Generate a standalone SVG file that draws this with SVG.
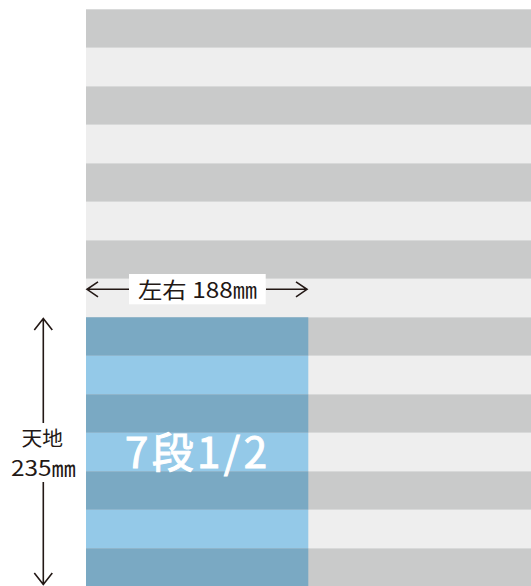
<svg xmlns="http://www.w3.org/2000/svg" width="531" height="586" viewBox="0 0 531 586">
<style>
.d{fill:#c9caca}.l{fill:#eeeeee}.bd{fill:#7aa9c3}.bl{fill:#94c9e8}
.ln{stroke:#231815;stroke-width:1.6;fill:none}
.t{font-family:"Noto Sans CJK JP","Noto Sans",sans-serif;fill:#231815}
</style>
<rect width="531" height="586" fill="#ffffff"/>
<g id="stripes">
<rect class="d" x="86" y="9.3" width="445" height="38.5"/>
<rect class="l" x="86" y="47.8" width="445" height="38.5"/>
<rect class="d" x="86" y="86.3" width="445" height="38.5"/>
<rect class="l" x="86" y="124.8" width="445" height="38.5"/>
<rect class="d" x="86" y="163.3" width="445" height="38.5"/>
<rect class="l" x="86" y="201.8" width="445" height="38.5"/>
<rect class="d" x="86" y="240.3" width="445" height="38.5"/>
<rect class="l" x="86" y="278.8" width="445" height="38.5"/>
<rect class="d" x="86" y="317.3" width="445" height="38.5"/>
<rect class="l" x="86" y="355.8" width="445" height="38.5"/>
<rect class="d" x="86" y="394.3" width="445" height="38.5"/>
<rect class="l" x="86" y="432.8" width="445" height="38.5"/>
<rect class="d" x="86" y="471.3" width="445" height="38.5"/>
<rect class="l" x="86" y="509.8" width="445" height="38.5"/>
<rect class="d" x="86" y="548.3" width="445" height="38.5"/>
</g>
<g id="block">
<rect class="bd" x="86" y="317.3" width="222.3" height="38.5"/>
<rect class="bl" x="86" y="355.8" width="222.3" height="38.5"/>
<rect class="bd" x="86" y="394.3" width="222.3" height="38.5"/>
<rect class="bl" x="86" y="432.8" width="222.3" height="38.5"/>
<rect class="bd" x="86" y="471.3" width="222.3" height="38.5"/>
<rect class="bl" x="86" y="509.8" width="222.3" height="38.5"/>
<rect class="bd" x="86" y="548.3" width="222.3" height="38.5"/>
<text x="196" y="467.5" text-anchor="middle" font-family="'Noto Sans CJK JP','Noto Sans',sans-serif" font-size="42" fill="#ffffff" stroke="#ffffff" stroke-width="1" textLength="142" lengthAdjust="spacing">7段1/2</text>
</g>
<g id="connectors">
<path class="ln" d="M87 289.3H129M98 281.8L87 289.3L98 296.8"/>
<path class="ln" d="M266 289.3H307M296 281.8L307 289.3L296 296.8"/>
<path class="ln" d="M43.3 318V423M34.3 330L43.3 318.5L52.3 330"/>
<path class="ln" d="M43.3 482V585M34.3 573L43.3 584.5L52.3 573"/>
</g>
<g id="width-label">
<rect x="129" y="274" width="136.7" height="30.3" fill="#ffffff"/>
<text class="t" x="138" y="298" font-size="22" textLength="119" lengthAdjust="spacingAndGlyphs">左右 188㎜</text>
</g>
<g id="height-label">
<text class="t" x="21.5" y="446" font-size="20" textLength="41.5" lengthAdjust="spacingAndGlyphs">天地</text>
<text class="t" x="11" y="476" font-size="21" textLength="65" lengthAdjust="spacingAndGlyphs">235㎜</text>
</g>
</svg>
